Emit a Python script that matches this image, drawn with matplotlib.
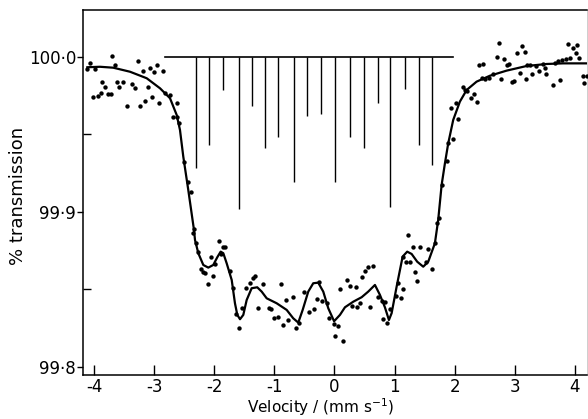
import matplotlib.pyplot as plt
import numpy as np

# --- data ---
# measured points: velocity (mm/s), % transmission
vel_pts = [-4.068, -4.113, -3.985, -3.697, -3.652, -3.265, -3.191, -3.070, -3.003, -2.948,
           -2.859, -3.864, -3.819, -3.624, -3.524, -3.581, -3.374, -3.319, -4.013, -3.930,
           -3.890, -3.764, -3.724, -3.098, -3.042, -3.153, -3.236, -3.448, -2.915, -2.820,
           -2.737, -2.616, -2.692, -2.626, -2.582, -2.504, -2.443, -2.393, -2.338,
           -2.349, -2.309, -2.266, -2.226, -2.193, -2.155, -2.100, -2.060, -2.017, -1.988,
           -1.922, -1.894, -1.860, -1.817, -1.739, -1.694, -1.639, -1.584, -1.544, -1.478,
           -1.406, -1.361, -1.323, -1.268, -1.185, -1.085, -1.062, -1.007, -0.935, -0.890,
           -0.852, -0.807, -0.769, -0.686, -0.641, -0.586, -0.507, -0.419, -0.341, -0.296,
           -0.253, -0.213, -0.130, -0.087, -0.008, 0.008, 0.063,
           0.092, 0.136, 0.203, 0.258, 0.286, 0.358, 0.379, 0.424, 0.453, 0.507,
           0.562, 0.636, 0.591, 0.729, 0.785, 0.840, 0.802, 0.879, 0.923, 1.023,
           1.102, 1.145, 1.062, 1.135, 1.190, 1.256, 1.228, 1.311, 1.339, 1.378,
           1.423, 1.522, 1.561, 1.617, 1.672, 1.711,
           1.744, 1.784, 1.867, 1.894, 1.977, 2.060, 1.933, 2.022, 2.133, 2.171,
           2.210, 2.266, 2.321, 2.366, 2.409, 2.476, 2.449, 2.504, 2.576, 2.642,
           2.742, 2.699, 2.765, 2.820, 2.875, 2.908, 2.948, 2.987, 3.032, 3.115,
           3.170, 3.087, 3.186, 3.198, 3.253, 3.291, 3.353, 3.408, 3.464, 3.502,
           3.519, 3.631, 3.669, 3.724, 3.752, 3.790, 3.847, 3.890, 3.963, 4.040,
           4.018, 3.918, 4.068, 4.130, 4.196, 4.151]
trans_pts = [99.9961, 99.9919, 99.9919, 100.0006, 99.9946, 99.9974, 99.9908, 99.9925, 99.9903, 99.9946,
             99.9908, 99.9835, 99.9803, 99.9839, 99.9835, 99.9806, 99.9824, 99.9796, 99.9742, 99.9746,
             99.9764, 99.9759, 99.9757, 99.9803, 99.9742, 99.9716, 99.9682, 99.9682, 99.9703, 99.9764,
             99.9753, 99.9699, 99.9613, 99.9609, 99.9574, 99.9323, 99.9190, 99.9129, 99.8886,
             99.8861, 99.8800, 99.8742, 99.8628, 99.8613, 99.8603, 99.8532, 99.8706, 99.8587, 99.8661,
             99.8813, 99.8725, 99.8774, 99.8774, 99.8619, 99.8506, 99.8338, 99.8248, 99.8377, 99.8506,
             99.8538, 99.8570, 99.8585, 99.8377, 99.8534, 99.8377, 99.8370, 99.8312, 99.8319, 99.8534,
             99.8269, 99.8430, 99.8301, 99.8452, 99.8248, 99.8284, 99.8484, 99.8355, 99.8370, 99.8437,
             99.8548, 99.8426, 99.8409, 99.8316, 99.8275, 99.8198, 99.8263,
             99.8499, 99.8168, 99.8559, 99.8523, 99.8392, 99.8516, 99.8387, 99.8409, 99.8577, 99.8619,
             99.8645, 99.8652, 99.8383, 99.8452, 99.8426, 99.8419, 99.8308, 99.8284, 99.8370, 99.8456,
             99.8445, 99.8499, 99.8538, 99.8710, 99.8677, 99.8677, 99.8850, 99.8770, 99.8613, 99.8555,
             99.8774, 99.8677, 99.8759, 99.8630, 99.8796, 99.8925,
             99.8957, 99.9172, 99.9329, 99.9441, 99.9469, 99.9598, 99.9667, 99.9703, 99.9803, 99.9785,
             99.9779, 99.9732, 99.9759, 99.9710, 99.9946, 99.9953, 99.9861, 99.9854, 99.9861, 99.9886,
             100.0086, 99.9996, 99.9854, 99.9983, 99.9946, 99.9953, 99.9839, 99.9843, 100.0022, 100.0069,
             100.0028, 99.9897, 99.9854, 99.9946, 99.9946, 99.9886, 99.9940, 99.9908, 99.9953, 99.9925,
             99.9888, 99.9817, 99.9957, 99.9974, 99.9850, 99.9979, 99.9983, 100.0082, 100.0054, 100.0075,
             100.0022, 99.9990, 99.9990, 99.9877, 99.9877, 99.9832]

# fitted curve
vel_fit = [-4.113, -3.902, -3.681, -3.403, -3.125, -2.903, -2.737, -2.626, -2.571, -2.516,
           -2.433, -2.338, -2.321, -2.266, -2.183, -2.100, -2.017, -1.950, -1.894, -1.850,
           -1.794, -1.710, -1.656, -1.617, -1.572, -1.517, -1.461, -1.378, -1.285, -1.211,
           -1.128, -0.962, -0.795, -0.686, -0.602, -0.529, -0.436, -0.353, -0.270, -0.186,
           -0.103, -0.006, 0.092, 0.175, 0.313, 0.453, 0.562, 0.674, 0.757, 0.840,
           0.907, 0.952, 1.035, 1.135, 1.211, 1.285, 1.378, 1.478, 1.561, 1.672,
           1.727, 1.784, 1.839, 1.894, 1.977, 2.088, 2.200, 2.366, 2.587, 2.865,
           3.198, 3.531, 3.807, 4.196]
trans_fit = [99.9932, 99.9935, 99.9929, 99.9903, 99.9861, 99.9796, 99.9732, 99.9624, 99.9527, 99.9355,
             99.9140, 99.8882, 99.8817, 99.8732, 99.8656, 99.8639, 99.8656, 99.8706, 99.8742, 99.8732,
             99.8667, 99.8559, 99.8409, 99.8334, 99.8306, 99.8334, 99.8430, 99.8506, 99.8512, 99.8484,
             99.8441, 99.8409, 99.8366, 99.8312, 99.8284, 99.8366, 99.8484, 99.8538, 99.8542, 99.8484,
             99.8377, 99.8293, 99.8334, 99.8383, 99.8419, 99.8448, 99.8484, 99.8527, 99.8463, 99.8383,
             99.8301, 99.8345, 99.8516, 99.8710, 99.8742, 99.8727, 99.8677, 99.8645, 99.8677, 99.8796,
             99.8946, 99.9172, 99.9312, 99.9441, 99.9592, 99.9710, 99.9785, 99.9839, 99.9877, 99.9910,
             99.9940, 99.9953, 99.9957, 99.9957]

# stick diagram of line positions
stick_vel = [-2.31, -2.08, -1.86, -1.59, -1.38, -1.16, -0.94, -0.67, -0.45, -0.23,
             0.01, 0.26, 0.49, 0.72, 0.92, 1.18, 1.41, 1.63]
stick_bottom = [99.928, 99.943, 99.9785, 99.902, 99.968, 99.941, 99.948, 99.919, 99.962, 99.963,
                99.919, 99.948, 99.941, 99.970, 99.903, 99.979, 99.943, 99.930]
stick_top = 100.0
stick_span = [-2.82, 1.97]

xticks = [-4, -3, -2, -1, 0, 1, 2, 3, 4]
yticks = [99.8, 99.9, 100.0]
ytick_labels = ['99·8', '99·9', '100·0']
yminor = [99.85, 99.95]

plt.rcParams['font.family'] = ['DejaVu Sans']
plt.rcParams['axes.unicode_minus'] = False

fig = plt.figure(figsize=(5.88, 4.19), dpi=100)
ax = fig.add_axes([0.1412, 0.105, 0.8568, 0.871])

# sticks
ax.plot(stick_span, [stick_top, stick_top], color='black', linewidth=1.2)
ax.vlines(stick_vel, stick_bottom, stick_top, color='black', linewidth=1.0)

# data and fit
ax.scatter(vel_pts, trans_pts, s=10, color='black', linewidths=0, zorder=3)
ax.plot(vel_fit, trans_fit, color='black', linewidth=1.6, zorder=4)

ax.set_xlim(-4.185, 4.201)
ax.set_ylim(99.7946, 100.0301)

ax.set_xticks(xticks)
ax.set_xticklabels([str(t) for t in xticks], fontsize=12)
ax.tick_params(axis='x', direction='in', length=7, width=1.0, pad=2)

ax.set_yticks(yticks)
ax.set_yticklabels(ytick_labels, fontsize=12)
ax.set_yticks(yminor, minor=True)
ax.tick_params(axis='y', which='major', direction='out', length=4, width=1.0, pad=1)
ax.tick_params(axis='y', which='minor', direction='in', length=6, width=1.0)

for side in ['left', 'bottom', 'top']:
    ax.spines[side].set_linewidth(1.1)
ax.spines['right'].set_linewidth(0.5)
ax.spines['right'].set_color('#bbbbbb')

ax.set_xlabel('Velocity / (mm s$^{-1}$)', fontsize=11)
ax.xaxis.set_label_coords(0.472, -0.057)
ax.set_ylabel('% transmission', fontsize=13)
ax.yaxis.set_label_coords(-0.112, 0.49)

fig.savefig('out.png', dpi=100)
